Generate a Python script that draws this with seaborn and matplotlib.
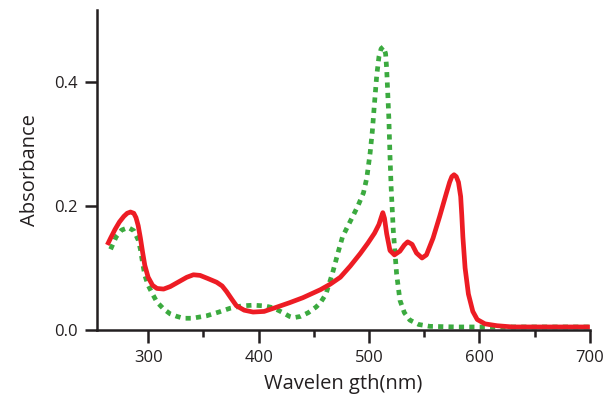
import numpy as np
import pandas as pd
import matplotlib
matplotlib.use("Agg")
import matplotlib.pyplot as plt
import seaborn as sns

# red (solid) spectrum
red_nm = [263, 266, 270, 274, 278, 281, 284, 287, 289, 291, 293, 295, 297, 300, 304, 308, 314, 320,
          328, 335, 341, 347, 354, 362, 367, 371, 376, 380, 387, 395, 405, 415, 428,
          440, 456, 465, 474, 483, 492, 499, 505, 509, 511, 512.5, 514, 516, 519, 523, 528,
          532, 535, 539, 543, 548, 552, 558, 564, 570, 573, 575, 577, 579, 581, 583, 584, 585,
          587, 590, 594, 598, 605, 616, 630, 660, 700]
red_abs = [0.137, 0.148, 0.162, 0.174, 0.183, 0.188, 0.190, 0.188, 0.181, 0.168, 0.148, 0.125, 0.104, 0.085, 0.072, 0.067, 0.066, 0.070,
           0.078, 0.085, 0.089, 0.088, 0.083, 0.077, 0.071, 0.062, 0.049, 0.039, 0.032, 0.029, 0.030, 0.036, 0.044,
           0.052, 0.065, 0.074, 0.085, 0.103, 0.123, 0.140, 0.156, 0.170, 0.181, 0.189, 0.180, 0.155, 0.128, 0.121, 0.127,
           0.137, 0.142, 0.138, 0.124, 0.116, 0.121, 0.148, 0.183, 0.220, 0.238, 0.247, 0.250, 0.247, 0.238, 0.215, 0.185, 0.150,
           0.100, 0.058, 0.030, 0.017, 0.010, 0.007, 0.005, 0.005, 0.005]

# green (dotted) spectrum
green_nm = [266, 271, 276, 282, 287, 291, 293, 295, 297, 300, 304, 308, 314, 320, 326,
            332, 340, 353, 364, 374, 385, 395, 405, 413, 421, 428, 432, 438, 445, 452,
            456, 461, 467, 472, 476, 481, 485, 490, 495, 498, 501, 503, 505, 507, 509,
            511, 513, 515, 516, 517, 518, 519, 520, 522, 525, 528, 532, 537, 545, 555,
            580, 620, 700]
green_abs = [0.130, 0.150, 0.161, 0.165, 0.160, 0.145, 0.130, 0.108, 0.088, 0.072, 0.058, 0.045, 0.034, 0.026, 0.022,
             0.019, 0.019, 0.023, 0.029, 0.035, 0.039, 0.040, 0.039, 0.036, 0.029, 0.022, 0.020, 0.022, 0.028, 0.037,
             0.044, 0.058, 0.092, 0.125, 0.150, 0.168, 0.182, 0.200, 0.221, 0.245, 0.285, 0.320, 0.366, 0.410, 0.440,
             0.453, 0.456, 0.445, 0.420, 0.380, 0.339, 0.280, 0.231, 0.160, 0.090, 0.048, 0.028, 0.016, 0.009, 0.006,
             0.005, 0.005, 0.005]

red_col = "#ED1C24"
green_col = "#3BAA3F"
ink = "#231F20"

sns.set_style("ticks")
plt.rcParams['font.family'] = ['Open Sans', 'DejaVu Sans']

fig = plt.figure(figsize=(6.05, 4.04), dpi=100)
ax = fig.add_axes([0.160, 0.183, 0.815, 0.792])

df_r = pd.DataFrame({"nm": red_nm, "abs": red_abs})
df_g = pd.DataFrame({"nm": green_nm, "abs": green_abs})

sns.lineplot(data=df_g, x="nm", y="abs", sort=False, ax=ax, color=green_col,
             linewidth=3.4, linestyle=(0, (1.1, 1.1)), dash_capstyle="butt",
             dash_joinstyle="round")
sns.lineplot(data=df_r, x="nm", y="abs", sort=False, ax=ax, color=red_col,
             linewidth=3.4, solid_capstyle="butt", solid_joinstyle="round")

ax.set_xlim(253.5, 700)
ax.set_ylim(0, 0.515)
ax.set_xticks([300, 400, 500, 600, 700])
ax.set_xticks([350, 450, 550, 650], minor=True)
ax.set_yticks([0.0, 0.2, 0.4])
ax.set_yticklabels(["0.0", "0.2", "0.4"])

for s in ["top", "right"]:
    ax.spines[s].set_visible(False)
for s in ["left", "bottom"]:
    ax.spines[s].set_color(ink)
    ax.spines[s].set_linewidth(1.8)

ax.tick_params(axis="both", which="major", direction="out", length=9, width=1.8,
               color=ink, labelcolor=ink, labelsize=12, pad=5)
ax.tick_params(axis="x", which="minor", direction="out", length=5, width=1.8, color=ink)

ax.set_xlabel("Wavelen gth(nm)", fontsize=14.5, color=ink, labelpad=6)
ax.set_ylabel("Absorbance", fontsize=14.5, color=ink, labelpad=10)

fig.savefig("out.png", dpi=100)
